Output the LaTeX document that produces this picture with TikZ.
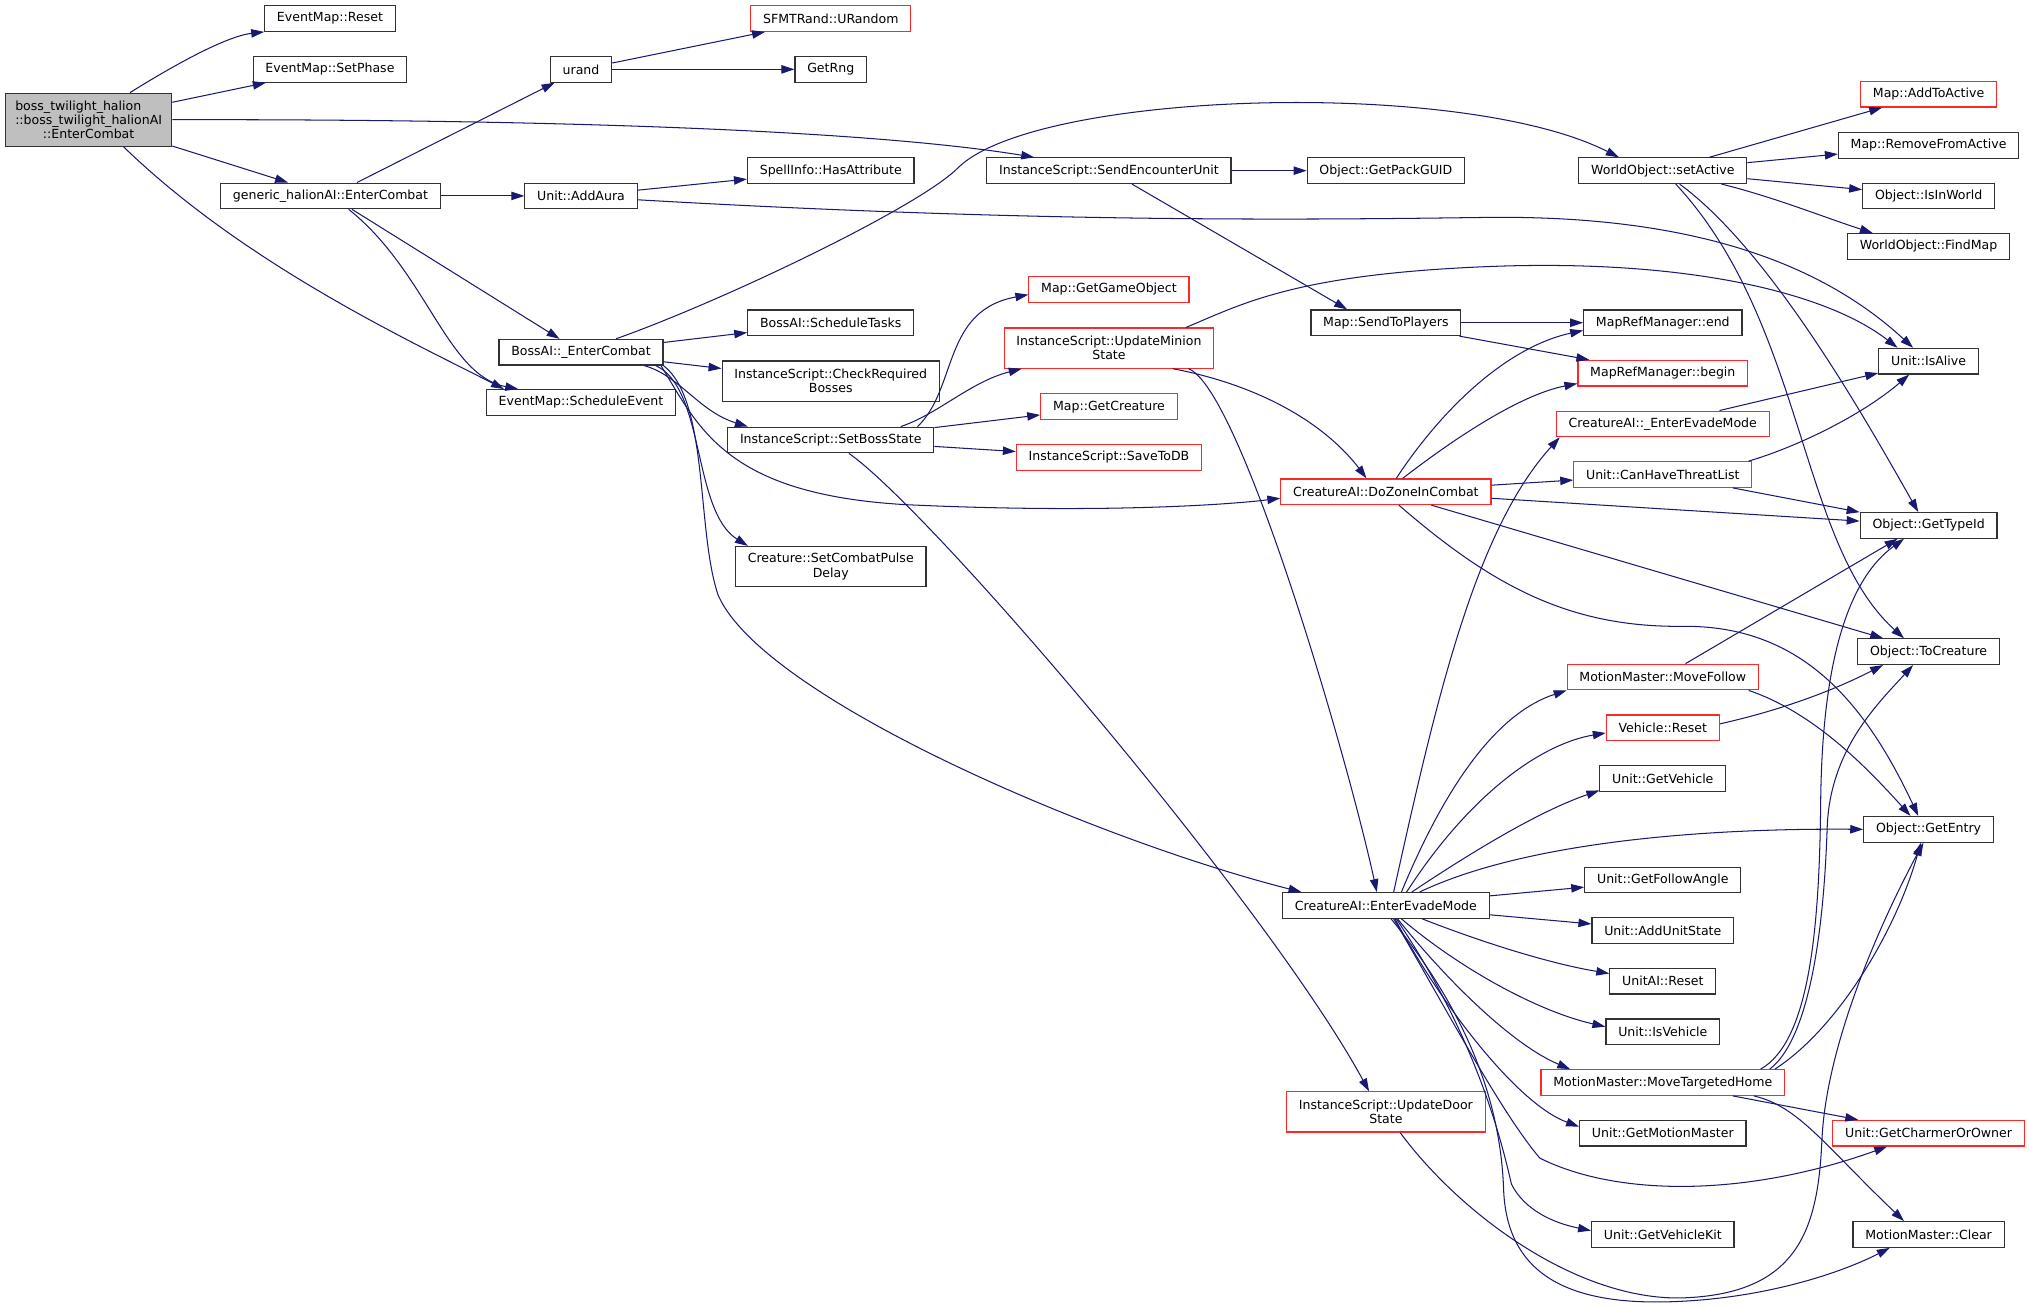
\documentclass[tikz,border=0pt]{standalone}
\usepackage{fontspec}
\setmainfont{DejaVu Sans}
\usetikzlibrary{arrows.meta,calc}
\definecolor{edgeblue}{RGB}{25,25,112}
\definecolor{boxgray}{RGB}{191,191,191}
\definecolor{boxline}{RGB}{50,50,50}
\definecolor{truncred}{RGB}{255,40,40}
\begin{document}
\begin{tikzpicture}
[x=1pt,y=-1pt,
  funcdecorate/.style={shape=rectangle,draw=boxline,line width=0.9pt,inner xsep=9.5pt,inner ysep=2pt,%
    minimum height=19.8pt,align=center,font=\fontsize{9.7}{11}\selectfont},%
  truncdecorate/.style={funcdecorate,draw=truncred},%
  rootdecorate/.style={funcdecorate,fill=boxgray,inner xsep=7.5pt,minimum height=41pt},%
  linedecorate/.style={-{Triangle[length=10pt,width=6.5pt]},color=edgeblue,line width=0.8pt}]
\useasboundingbox (0,0) rectangle (1568,1009.3);
%% nodes or functions
\node (main) at (68.5,92.5) [rootdecorate]
  {boss\_twilight\_halion\hphantom{::AI}\\::boss\_twilight\_halionAI\\::EnterCombat};
\foreach \nodename/\x/\y/\h/\nodetext in {
  reset/255/14.3/19.8/{EventMap::Reset}, setphase/255/53.6/19.8/{EventMap::SetPhase},
  ghal/255.4/151.4/19.8/{generic\_halionAI::EnterCombat}, sched/449/311/19.8/{EventMap::ScheduleEvent},
  bossec/449/272.2/19.8/{BossAI::\_EnterCombat}, urand/449/53.6/19.8/{urand},
  addaura/449/151.4/19.8/{Unit::AddAura}, getrng/642/53.6/19.8/{GetRng},
  hasattr/642/131.9/19.8/{SpellInfo::HasAttribute}, sendenc/857/131.9/19.8/{InstanceScript::SendEncounterUnit},
  packguid/1071/131.9/19.8/{Object::GetPackGUID}, schedtasks/642/249.4/19.8/{BossAI::ScheduleTasks},
  checkreq/642/294.5/31/{InstanceScript::CheckRequired\\Bosses}, setboss/642/340/19.8/{InstanceScript::SetBossState},
  sendplayers/1071/249.4/19.8/{Map::SendToPlayers}, pulse/642/437.8/31/{Creature::SetCombatPulse\\Delay},
  setactive/1285/131.9/19.8/{WorldObject::setActive}, refend/1285/249.4/19.8/{MapRefManager::end},
  removeactive/1490.4/112.4/19.8/{Map::RemoveFromActive}, isinworld/1490.4/151.4/19.8/{Object::IsInWorld},
  findmap/1490.4/190.5/19.8/{WorldObject::FindMap}, isalive/1490.4/279.1/19.8/{Unit::IsAlive},
  typeid/1490.4/406/19.8/{Object::GetTypeId}, tocreature/1490.4/503.6/19.8/{Object::ToCreature},
  getvehicle/1285/601.5/19.8/{Unit::GetVehicle}, getentry/1490.4/640.9/19.8/{Object::GetEntry},
  evade/1071/699.7/19.8/{CreatureAI::EnterEvadeMode}, followangle/1285/680/19.8/{Unit::GetFollowAngle},
  addunitstate/1285/719/19.8/{Unit::AddUnitState}, unitaireset/1285/758.3/19.8/{UnitAI::Reset},
  isvehicle/1285/797.4/19.8/{Unit::IsVehicle}, getmm/1285/875.7/19.8/{Unit::GetMotionMaster},
  vehkit/1285/954/19.8/{Unit::GetVehicleKit}, mmclear/1490.4/954/19.8/{MotionMaster::Clear}}
{
  \node (\nodename) at (\x,\y) [funcdecorate,minimum height=\h pt] {\nodetext};
}
%% nodes with a red frame
\foreach \nodename/\x/\y/\h/\nodetext in {
  urandom/642/14.3/19.8/{SFMTRand::URandom}, getgo/857/223.7/19.8/{Map::GetGameObject},
  updminion/857/269/31/{InstanceScript::UpdateMinion\\State}, getcreature/857/314.3/19.8/{Map::GetCreature},
  savedb/857/353.4/19.8/{InstanceScript::SaveToDB}, dozone/1071/380/19.8/{CreatureAI::DoZoneInCombat},
  refbegin/1285/288.4/19.8/{MapRefManager::begin}, enterevade/1285/327.6/19.8/{CreatureAI::\_EnterEvadeMode},
  addactive/1490.4/72.8/19.8/{Map::AddToActive}, threat/1285/366.7/19.8/{Unit::CanHaveThreatList},
  movefollow/1285/523.2/19.8/{MotionMaster::MoveFollow}, vehreset/1285/562.4/19.8/{Vehicle::Reset},
  movehome/1285/836.6/19.8/{MotionMaster::MoveTargetedHome}, updoor/1071/859.3/31/{InstanceScript::UpdateDoor\\State},
  charmer/1490.4/875.7/19.8/{Unit::GetCharmerOrOwner}}
{
  \node (\nodename) at (\x,\y) [truncdecorate,minimum height=\h pt] {\nodetext};
}
%% straight calls
\path
\foreach \startnode/\endnode in {main/setphase, main/ghal, ghal/urand, ghal/addaura, ghal/bossec,
  urand/urandom, urand/getrng, addaura/hasattr, bossec/schedtasks, bossec/checkreq,
  setboss/getcreature, setboss/savedb, sendenc/packguid, sendplayers/refend, sendplayers/refbegin,
  setactive/addactive, setactive/removeactive, setactive/isinworld, dozone/threat, dozone/typeid,
  dozone/tocreature, threat/typeid, enterevade/isalive, evade/followangle, evade/addunitstate,
  movehome/charmer} {
  (\startnode) edge[linedecorate] node {} (\endnode)
};
%% curved calls
\draw[linedecorate] ($(main.north)+(32,0)$) .. controls (135,50) and (175,28) .. (reset.south west);
\draw[linedecorate] (main.east) .. controls (450,92) and (680,102) .. ($(sendenc.north west)+(37,0)$);
\draw[linedecorate] ($(main.south)+(27,0)$) .. controls (190,205) and (320,265) .. ($(sched.north west)+(14,0)$);
\draw[linedecorate] ($(ghal.south)+(14,0)$) .. controls (330,210) and (345,290) .. ($(sched.north west)+(25,0)$);
\draw[linedecorate] ($(addaura.east)+(0,3)$) .. controls (800,172) and (1000,170) .. (1150,168)
  .. controls (1330,166) and (1420,215) .. ($(isalive.north)+(-12,0)$);
\draw[linedecorate] ($(bossec.north)+(27,0)$) .. controls (560,232) and (710,160) .. (740,130)
  .. controls (800,70) and (1130,60) .. ($(setactive.north)+(-34,0)$);
\draw[linedecorate] ($(bossec.south east)+(-15,0)$) .. controls (525,290) and (540,318) .. ($(setboss.north west)+(16,0)$);
\draw[linedecorate] ($(bossec.south east)+(-6,0)$) .. controls (545,300) and (535,395) .. ($(pulse.north west)+(10,0)$);
\draw[linedecorate] ($(bossec.south east)+(-2,0)$) .. controls (540,330) and (560,382) .. (700,390)
  .. controls (850,397) and (950,390) .. ($(dozone.west)+(0,5)$);
\draw[linedecorate] (bossec.south east) .. controls (548,310) and (538,410) .. (555,460)
  .. controls (590,540) and (850,650) .. ($(evade.north west)+(15,0)$);
\draw[linedecorate] ($(setboss.north east)+(-13,0)$) .. controls (740,300) and (728,240) .. ($(getgo.west)+(0,4)$);
\draw[linedecorate] ($(setboss.north east)+(-26,0)$) .. controls (725,320) and (750,295) .. ($(updminion.south west)+(14,0)$);
\draw[linedecorate] ($(setboss.south)+(14,0)$) .. controls (720,395) and (980,700) .. ($(updoor.north)+(-13,0)$);
\draw[linedecorate] (sendenc) -- ($(sendplayers.north)+(-30,0)$);
\draw[linedecorate] ($(updminion.north east)+(-22,0)$) .. controls (960,235) and (1000,212) .. (1150,206)
  .. controls (1300,200) and (1410,225) .. ($(isalive.north)+(-24,0)$);
\draw[linedecorate] ($(updminion.south east)+(-32,0)$) .. controls (985,300) and (1030,335) .. ($(dozone.north)+(-15,0)$);
\draw[linedecorate] ($(updminion.south east)+(-20,0)$) .. controls (958,300) and (1040,580) .. ($(evade.north)+(-7,0)$);
\draw[linedecorate] ($(dozone.north)+(8,0)$) .. controls (1115,315) and (1165,268) .. ($(refend.west)+(0,6)$);
\draw[linedecorate] ($(dozone.north)+(13,0)$) .. controls (1125,338) and (1175,305) .. ($(refbegin.west)+(0,8)$);
\draw[linedecorate] ($(dozone.south)+(10,0)$) .. controls (1150,450) and (1210,485) .. (1300,484)
  .. controls (1390,483) and (1440,540) .. ($(getentry.north)+(-8,0)$);
\draw[linedecorate] ($(setactive.south east)+(-20,0)$) .. controls (1370,152) and (1410,168) .. ($(findmap.north west)+(20,0)$);
\draw[linedecorate] ($(setactive.south)+(13,0)$) .. controls (1370,195) and (1445,330) .. ($(typeid.north)+(-8,0)$);
\draw[linedecorate] ($(setactive.south)+(10,0)$) .. controls (1395,250) and (1390,420) .. ($(tocreature.north)+(-19,0)$);
\draw[linedecorate] ($(threat.north east)+(-3,0)$) .. controls (1390,345) and (1440,320) .. ($(isalive.south)+(-15,0)$);
\draw[linedecorate] (movefollow) -- ($(typeid.south)+(-24,0)$);
\draw[linedecorate] ($(movefollow.south east)+(-8,0)$) .. controls (1400,550) and (1440,590) .. ($(getentry.north)+(-14,0)$);
\draw[linedecorate] ($(vehreset.east)+(0,-3)$) .. controls (1380,548) and (1420,532) .. ($(tocreature.south west)+(20,0)$);
%% calls leaving the top of EnterEvadeMode
\draw[linedecorate] ($(evade.north)+(6,0)$) .. controls (1110,540) and (1140,410) .. ($(enterevade.south west)+(3,0)$);
\draw[linedecorate] ($(evade.north)+(12,0)$) .. controls (1120,600) and (1160,550) .. (movefollow.south west);
\draw[linedecorate] ($(evade.north)+(16,0)$) .. controls (1135,615) and (1190,575) .. ($(vehreset.west)+(0,4)$);
\draw[linedecorate] ($(evade.north)+(20,0)$) .. controls (1150,650) and (1195,625) .. ($(getvehicle.south west)+(0,-1)$);
\draw[linedecorate] ($(evade.north)+(26,0)$) .. controls (1180,650) and (1320,640) .. (getentry.west);
%% calls leaving the bottom of EnterEvadeMode
\draw[linedecorate] ($(evade.south)+(28,0)$) .. controls (1150,730) and (1200,745) .. ($(unitaireset.west)+(0,-6)$);
\draw[linedecorate] ($(evade.south)+(12,0)$) .. controls (1130,750) and (1190,782) .. ($(isvehicle.west)+(0,-4)$);
\draw[linedecorate] ($(evade.south)+(9,0)$) .. controls (1120,760) and (1170,808) .. ($(movehome.north west)+(23,0)$);
\draw[linedecorate] ($(evade.south)+(7,0)$) .. controls (1110,770) and (1170,852) .. ($(getmm.west)+(0,-5)$);
\draw[linedecorate] ($(evade.south)+(6,0)$) .. controls (1115,775) and (1160,860) .. (1190,895)
  .. controls (1250,925) and (1350,925) .. ($(charmer.south)+(-32,0)$);
\draw[linedecorate] ($(evade.south)+(8,0)$) .. controls (1140,800) and (1160,880) .. (1168,915)
  .. controls (1178,935) and (1200,945) .. ($(vehkit.west)+(0,-3)$);
\draw[linedecorate] ($(evade.south)+(4,0)$) .. controls (1140,790) and (1160,860) .. (1162,920)
  .. controls (1165,990) and (1220,1008) .. (1290,1006) .. controls (1360,1004) and (1420,985) .. ($(mmclear.south)+(-30,0)$);
%% calls of MoveTargetedHome and UpdateDoorState
\draw[linedecorate] ($(movehome.north east)+(-19,0)$) .. controls (1398,805) and (1406,720) .. (1407,620)
  .. controls (1408,520) and (1425,450) .. ($(typeid.south)+(-19,0)$);
\draw[linedecorate] ($(movehome.north east)+(-12,0)$) .. controls (1402,800) and (1410,700) .. (1412,640)
  .. controls (1414,580) and (1450,545) .. ($(tocreature.south)+(-12,0)$);
\draw[linedecorate] ($(movehome.north east)+(-8,0)$) .. controls (1420,795) and (1465,720) .. ($(getentry.south)+(-6,0)$);
\draw[linedecorate] ($(movehome.south east)+(-24,0)$) .. controls (1390,855) and (1410,885) .. ($(mmclear.north)+(-19,0)$);
\draw[linedecorate] ($(updoor.south)+(11,0)$) .. controls (1130,940) and (1220,1005) .. (1300,1003)
  .. controls (1390,1000) and (1405,950) .. (1408,880) .. controls (1412,800) and (1460,700) .. ($(getentry.south)+(-4,0)$);
\end{tikzpicture}
\end{document}
